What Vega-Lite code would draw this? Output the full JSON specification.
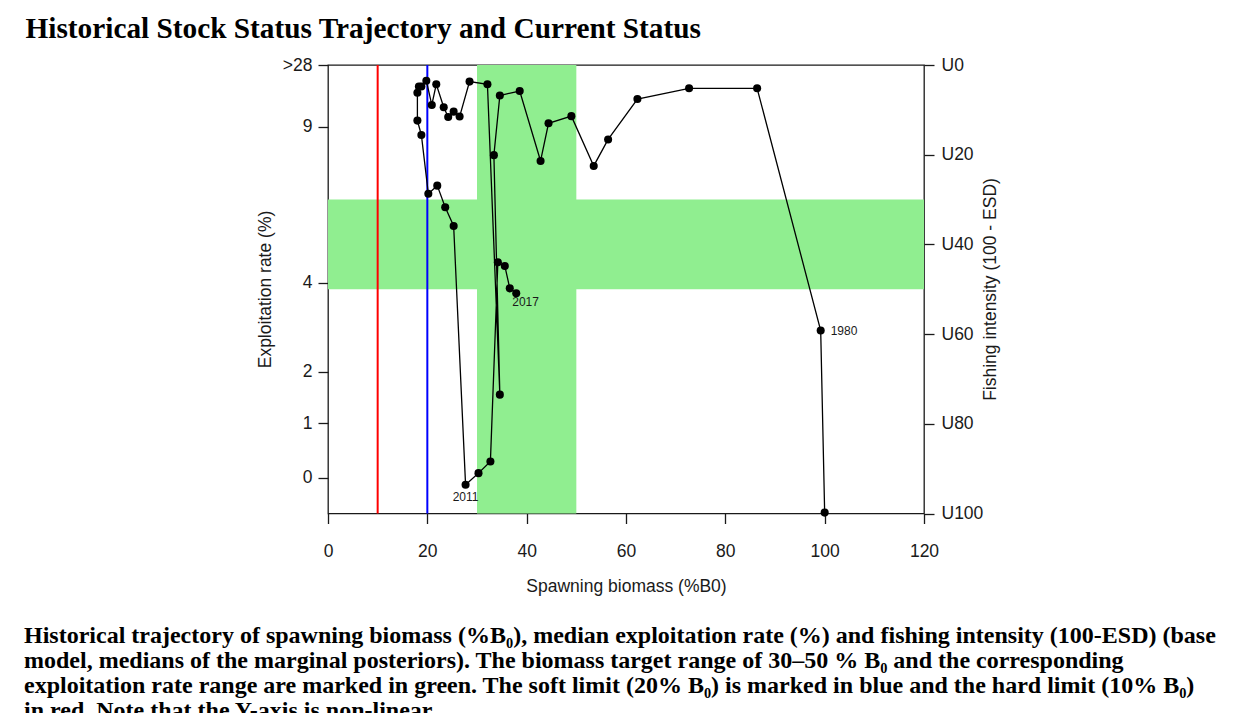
{
  "$schema": "https://vega.github.io/schema/vega-lite/v6.json",
  "width": 596,
  "height": 448.5,
  "autosize": {"type": "none"},
  "padding": {"left": 328, "top": 65, "right": 313, "bottom": 199.5},
  "background": "white",
  "config": {
    "view": {"stroke": "#1a1a1a", "strokeWidth": 1.3},
    "font": "Liberation Sans",
    "axis": {"grid": false, "labelFont": "Liberation Sans", "titleFont": "Liberation Sans", "labelColor": "#1a1a1a", "titleColor": "#1a1a1a", "tickColor": "#1a1a1a", "domainColor": "#1a1a1a", "labelFontSize": 17.5, "titleFontSize": 17.5, "titleFontWeight": "normal", "tickWidth": 1.3, "tickSize": 10}
  },
  "title": {
    "text": [
      "Historical trajectory of spawning biomass (%B₀), median exploitation rate (%) and fishing intensity (100-ESD) (base",
      "model, medians of the marginal posteriors). The biomass target range of 30–50 % B₀ and the corresponding",
      "exploitation rate range are marked in green. The soft limit (20% B₀) is marked in blue and the hard limit (10% B₀)",
      "in red. Note that the Y-axis is non-linear."
    ],
    "orient": "bottom",
    "anchor": "start",
    "frame": "group",
    "dx": -304,
    "offset": 29,
    "font": "Liberation Serif",
    "fontSize": 24,
    "fontWeight": "bold",
    "lineHeight": 25.3,
    "color": "black"
  },
  "datasets": {
    "bands": [
      {"b0": 30, "b1": 50, "u0": 0, "u1": 100},
      {"b0": 0, "b1": 120, "u0": 30, "u1": 50}
    ],
    "limits": [
      {"b": 10, "limit": "hard"},
      {"b": 20, "limit": "soft"}
    ],
    "traj": [
      {"year": 1979, "b": 100.0, "u": 99.8},
      {"year": 1980, "b": 99.2, "u": 59.2},
      {"year": 1981, "b": 86.4, "u": 5.2},
      {"year": 1982, "b": 72.7, "u": 5.2},
      {"year": 1983, "b": 62.3, "u": 7.6},
      {"year": 1984, "b": 56.4, "u": 16.6},
      {"year": 1985, "b": 53.5, "u": 22.5},
      {"year": 1986, "b": 49.0, "u": 11.4},
      {"year": 1987, "b": 44.4, "u": 13.0},
      {"year": 1988, "b": 42.8, "u": 21.4},
      {"year": 1989, "b": 38.6, "u": 5.8},
      {"year": 1990, "b": 34.6, "u": 6.8},
      {"year": 1991, "b": 33.4, "u": 20.1},
      {"year": 1992, "b": 34.6, "u": 73.5},
      {"year": 1993, "b": 32.1, "u": 4.3},
      {"year": 1994, "b": 28.5, "u": 3.7},
      {"year": 1995, "b": 26.5, "u": 11.5},
      {"year": 1996, "b": 25.3, "u": 10.4},
      {"year": 1997, "b": 24.2, "u": 11.6},
      {"year": 1998, "b": 23.3, "u": 9.4},
      {"year": 1999, "b": 21.8, "u": 4.3},
      {"year": 2000, "b": 20.9, "u": 8.9},
      {"year": 2001, "b": 19.8, "u": 3.5},
      {"year": 2002, "b": 18.8, "u": 4.8},
      {"year": 2003, "b": 18.3, "u": 4.8},
      {"year": 2004, "b": 18.0, "u": 6.2},
      {"year": 2005, "b": 18.0, "u": 12.4},
      {"year": 2006, "b": 18.8, "u": 15.6},
      {"year": 2007, "b": 20.2, "u": 28.7},
      {"year": 2008, "b": 22.0, "u": 26.9},
      {"year": 2009, "b": 23.6, "u": 31.7},
      {"year": 2010, "b": 25.3, "u": 35.9},
      {"year": 2011, "b": 27.7, "u": 93.6},
      {"year": 2012, "b": 30.3, "u": 91.0},
      {"year": 2013, "b": 32.7, "u": 88.4},
      {"year": 2014, "b": 34.2, "u": 44.0},
      {"year": 2015, "b": 35.6, "u": 44.8},
      {"year": 2016, "b": 36.6, "u": 49.8},
      {"year": 2017, "b": 37.9, "u": 50.9}
    ]
  },
  "resolve": {"axis": {"x": "independent", "y": "independent"}},
  "layer": [
    {
      "data": {"name": "bands"},
      "mark": {"type": "rect", "color": "#90EE90", "opacity": 1},
      "encoding": {
        "x": {
          "field": "b0", "type": "quantitative",
          "scale": {"domain": [0, 120], "nice": false, "zero": false},
          "axis": {
            "orient": "bottom", "values": [0, 20, 40, 60, 80, 100, 120], "domain": false,
            "labelPadding": 19, "labelFlush": false,
            "title": "Spawning biomass (%B0)", "titleX": 298, "titleY": 72.5, "titleBaseline": "middle", "titleAlign": "center", "titleAnchor": null
          }
        },
        "x2": {"field": "b1"},
        "y": {
          "field": "u0", "type": "quantitative",
          "scale": {"domain": [0, 100], "nice": false, "zero": false, "reverse": true},
          "axis": {
            "orient": "left", "values": [0, 13.76, 48.57, 68.4, 79.9, 92.0], "domain": false,
            "labelPadding": 6, "labelFlush": false, "labelBaseline": "middle",
            "labelExpr": "datum.value == 0 ? '>28' : datum.value < 20 ? '9' : datum.value < 50 ? '4' : datum.value < 70 ? '2' : datum.value < 85 ? '1' : '0'",
            "title": "Exploitation rate (%)", "titleAngle": -90, "titleX": -63, "titleY": 224, "titleBaseline": "middle", "titleAlign": "center"
          }
        },
        "y2": {"field": "u1"}
      }
    },
    {
      "data": {"name": "limits"},
      "mark": {"type": "rule", "strokeWidth": 2},
      "encoding": {
        "x": {"field": "b", "type": "quantitative", "axis": null},
        "color": {"field": "limit", "type": "nominal", "scale": {"domain": ["hard", "soft"], "range": ["#FF0000", "#0000FF"]}, "legend": null}
      }
    },
    {
      "data": {"name": "traj"},
      "mark": {"type": "line", "color": "black", "strokeWidth": 1.3},
      "encoding": {
        "x": {"field": "b", "type": "quantitative", "axis": null},
        "y": {
          "field": "u", "type": "quantitative",
          "axis": {
            "orient": "right", "values": [0, 20, 40, 60, 80, 100], "domain": false,
            "labelPadding": 7, "labelFlush": false, "labelBaseline": "middle",
            "labelExpr": "'U' + datum.value",
            "title": "Fishing intensity (100 - ESD)", "titleAngle": -90, "titleX": 66, "titleY": 224, "titleBaseline": "middle", "titleAlign": "center"
          }
        },
        "order": {"field": "year", "type": "quantitative"}
      }
    },
    {
      "data": {"name": "traj"},
      "mark": {"type": "point", "shape": "circle", "filled": true, "color": "black", "opacity": 1, "size": 65},
      "encoding": {
        "x": {
          "field": "b", "type": "quantitative",
          "axis": {
            "orient": "top", "labels": false, "ticks": false, "domain": false,
            "title": "Historical Stock Status Trajectory and Current Status",
            "titleFont": "Liberation Serif", "titleFontSize": 29.3, "titleFontWeight": "bold", "titleColor": "black",
            "titleX": -303, "titleY": -28, "titleAlign": "left", "titleBaseline": "alphabetic", "titleAngle": 0
          }
        },
        "y": {"field": "u", "type": "quantitative", "axis": null}
      }
    },
    {
      "data": {"name": "traj"},
      "transform": [{"filter": "datum.year == 1980"}],
      "mark": {"type": "text", "align": "left", "baseline": "middle", "dx": 10, "fontSize": 12, "color": "#1a1a1a"},
      "encoding": {
        "x": {"field": "b", "type": "quantitative", "axis": null},
        "y": {"field": "u", "type": "quantitative", "axis": null},
        "text": {"field": "year", "type": "nominal"}
      }
    },
    {
      "data": {"name": "traj"},
      "transform": [{"filter": "datum.year == 2011"}],
      "mark": {"type": "text", "align": "center", "baseline": "middle", "dy": 12, "fontSize": 12, "color": "#1a1a1a"},
      "encoding": {
        "x": {"field": "b", "type": "quantitative", "axis": null},
        "y": {"field": "u", "type": "quantitative", "axis": null},
        "text": {"field": "year", "type": "nominal"}
      }
    },
    {
      "data": {"name": "traj"},
      "transform": [{"filter": "datum.year == 2017"}],
      "mark": {"type": "text", "align": "left", "baseline": "middle", "dx": -4, "dy": 8.5, "fontSize": 12, "color": "#1a1a1a"},
      "encoding": {
        "x": {"field": "b", "type": "quantitative", "axis": null},
        "y": {"field": "u", "type": "quantitative", "axis": null},
        "text": {"field": "year", "type": "nominal"}
      }
    }
  ]
}
